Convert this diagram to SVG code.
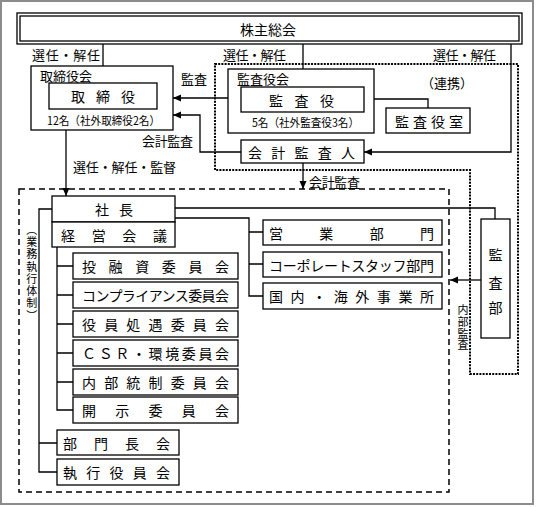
<svg xmlns="http://www.w3.org/2000/svg" width="536" height="507" viewBox="0 0 536 507">
<defs>
<style>
.b{fill:#fff;stroke:#000;stroke-width:1.3}
.t{font-family:"Noto Sans CJK JP","Noto Sans CJK SC",sans-serif;font-size:14px;fill:#000;dominant-baseline:central}
.s{font-size:13px}
.xs{font-size:11.5px}
.vt{font-size:11px;writing-mode:vertical-rl;text-orientation:mixed}
.l{fill:none;stroke:#000;stroke-width:1.3}
.dash{fill:none;stroke:#000;stroke-width:1.5;stroke-dasharray:6 4}
.dot{fill:none;stroke:#000;stroke-width:2;stroke-dasharray:2 1.2}
</style>
<marker id="ah" markerUnits="userSpaceOnUse" markerWidth="10" markerHeight="10" refX="8" refY="4" orient="auto" viewBox="0 0 10 10">
<path d="M0,0.5 L8,4 L0,7.5 z" fill="#000" stroke="none"/>
</marker>
</defs>
<rect x="1" y="1" width="532" height="503" fill="#fff" stroke="#8c8c8c" stroke-width="2"/>

<g id="regions">
<rect class="dash" x="19" y="189" width="430" height="303"/>
<path class="dot" d="M215,64 H518 V374 H470 V170 H215 Z"/>
</g>

<g id="connectors">
<path class="l" d="M103,44 V83" marker-end="url(#ah)"/>
<path class="l" d="M303,44 V87" marker-end="url(#ah)"/>
<path class="l" d="M511,44 V152 H364" marker-end="url(#ah)"/>
<path class="l" d="M241,98 H173" marker-end="url(#ah)"/>
<path class="l" d="M241,152 H200 V115 H173" marker-end="url(#ah)"/>
<path class="l" d="M364,99 H428 V108"/>
<path class="l" d="M303,163 V189" marker-end="url(#ah)"/>
<path class="l" d="M66,130 V196" marker-end="url(#ah)"/>
<path class="l" d="M52,209 H39 V472 H57 M39,443 H57"/>
<path class="l" d="M57,247 V410 H73 M57,266 H73 M57,295 H73 M57,324 H73 M57,353 H73 M57,382 H73"/>
<path class="l" d="M175,208 H495 V219"/>
<path class="l" d="M175,218 H249 V296 H263 M249,232 H263 M249,264 H263"/>
<path class="l" d="M481,280 H450" marker-end="url(#ah)"/>
</g>

<g id="labels">
<text class="t s" x="32" y="54" textLength="68">選任・解任</text>
<text class="t s" x="223" y="54" textLength="63">選任・解任</text>
<text class="t s" x="433" y="54" textLength="63">選任・解任</text>
<text class="t s" x="181" y="78">監査</text>
<text class="t s" x="447" y="82" text-anchor="middle">（連携）</text>
<text class="t s" x="142" y="140" textLength="51">会計監査</text>
<text class="t s" x="73" y="166" textLength="103">選任・解任・監督</text>
<text class="t s" x="309" y="181" textLength="51">会計監査</text>
<text id="label-gyomu" class="t vt" x="31.7" y="224" letter-spacing="1.3">（業務執行体制）</text>
<text id="label-naibu" class="t vt" x="463" y="304.5" letter-spacing="0.7">内部監査</text>
</g>

<g id="n-shareholders">
<rect class="b" x="17" y="13" width="505" height="31"/>
<rect class="b" x="20" y="16" width="499" height="25"/>
<text class="t" x="268" y="29" text-anchor="middle">株主総会</text>
</g>

<g id="n-board">
<rect class="b" x="31" y="66" width="142" height="64"/>
<text class="t s" x="40" y="75">取締役会</text>
<text class="t xs" x="47" y="120" textLength="113" lengthAdjust="spacingAndGlyphs">12名（社外取締役2名）</text>
</g>
<g id="n-directors">
<rect class="b" x="49" y="83" width="108" height="26"/>
<text class="t" x="71" y="96" textLength="64">取締役</text>
</g>

<g id="n-auditboard">
<rect class="b" x="228" y="69" width="146" height="64"/>
<text class="t s" x="237" y="78">監査役会</text>
<text class="t xs" x="252" y="122" textLength="107" lengthAdjust="spacingAndGlyphs">5名（社外監査役3名）</text>
</g>
<g id="n-auditors">
<rect class="b" x="241" y="87" width="123" height="25"/>
<text class="t" x="269" y="99.5" textLength="65">監査役</text>
</g>
<g id="n-auditoffice">
<rect class="b" x="386" y="108" width="84" height="25"/>
<text class="t" x="395" y="120.5" textLength="68">監査役室</text>
</g>
<g id="n-accountingauditor">
<rect class="b" x="241" y="140" width="123" height="23"/>
<text class="t" x="248" y="151.5" textLength="107">会計監査人</text>
</g>

<g id="n-president">
<rect class="b" x="52" y="196" width="123" height="26"/>
<text class="t" x="95" y="209" textLength="38">社長</text>
</g>
<g id="n-management">
<rect class="b" x="52" y="222" width="123" height="25"/>
<text class="t" x="61" y="234.5" textLength="106">経営会議</text>
</g>

<g id="n-c1"><rect class="b" x="73" y="253" width="165" height="26"/><text class="t" x="82" y="266" textLength="147">投融資委員会</text></g>
<g id="n-c2"><rect class="b" x="73" y="282" width="165" height="26"/><text class="t" x="82" y="295" textLength="147">コンプライアンス委員会</text></g>
<g id="n-c3"><rect class="b" x="73" y="311" width="165" height="26"/><text class="t" x="82" y="324" textLength="147">役員処遇委員会</text></g>
<g id="n-c4"><rect class="b" x="73" y="340" width="165" height="26"/><text class="t" x="82" y="353" textLength="147">ＣＳＲ・環境委員会</text></g>
<g id="n-c5"><rect class="b" x="73" y="369" width="165" height="26"/><text class="t" x="82" y="382" textLength="147">内部統制委員会</text></g>
<g id="n-c6"><rect class="b" x="73" y="397" width="165" height="26"/><text class="t" x="82" y="410" textLength="147">開示委員会</text></g>

<g id="n-divheads"><rect class="b" x="57" y="430" width="122" height="25"/><text class="t" x="63" y="442.5" textLength="107">部門長会</text></g>
<g id="n-officers"><rect class="b" x="57" y="459" width="122" height="26"/><text class="t" x="63" y="472" textLength="107">執行役員会</text></g>

<g id="n-sales"><rect class="b" x="263" y="220" width="179" height="25"/><text class="t" x="269" y="232.5" textLength="165">営業部門</text></g>
<g id="n-corporate"><rect class="b" x="263" y="252" width="179" height="25"/><text class="t" x="269" y="264.5" textLength="165">コーポレートスタッフ部門</text></g>
<g id="n-offices"><rect class="b" x="263" y="283" width="179" height="26"/><text class="t" x="269" y="296" textLength="165">国内・海外事業所</text></g>

<g id="n-auditdept">
<rect class="b" x="481" y="219" width="29" height="119"/>
<text class="t" x="495.5" y="254" text-anchor="middle">監</text>
<text class="t" x="495.5" y="282" text-anchor="middle">査</text>
<text class="t" x="495.5" y="307" text-anchor="middle">部</text>
</g>
</svg>
